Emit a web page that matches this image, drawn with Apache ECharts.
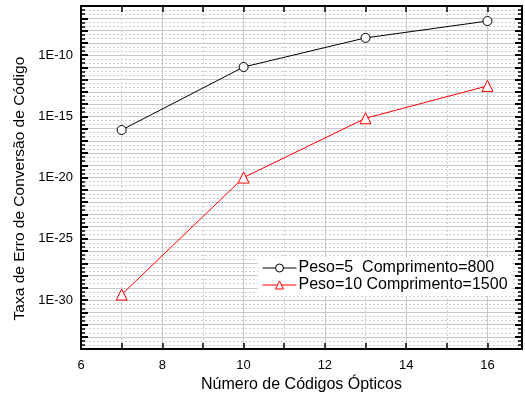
<!DOCTYPE html>
<html>
<head>
<meta charset="utf-8">
<script src="https://cdn.jsdelivr.net/npm/echarts@6/dist/echarts.min.js"></script>
<style>
html,body{margin:0;padding:0;background:#fff;}
#chart{width:525px;height:398px;}
</style>
</head>
<body>
<div id="chart"></div>
<script>
const xValues = [7, 10, 13, 16];
const seriesNames = ['Peso=5  Comprimento=800', 'Peso=10 Comprimento=1500'];
const peso5 = [7.6e-17, 1.05e-11, 2.5e-9, 5.9e-8];
const peso10 = [2.8e-30, 1.0e-20, 6.9e-16, 3.0e-13];
const yExpMin = -34, yExpMax = -6;
const xMin = 6, xMax = 16.85;
const xTitle = 'Número de Códigos Ópticos';
const yTitle = 'Taxa de Erro de Conversão de Código';

const FONT = 'Liberation Sans, Arial, sans-serif';
const chart = echarts.init(document.getElementById('chart'), null, {renderer: 'canvas'});

const SOLID = '#c8c8c8', DOT = '#cfcfcf';

function yFmt(v) {
  const e = Math.round(v);
  return e % 5 === 0 ? '1E' + e : '';
}
function xFmt(v) {
  return (Math.abs(v - Math.round(v)) < 1e-6 && Math.round(v) % 2 === 0) ? String(Math.round(v)) : '';
}

const yBase = {
  type: 'value', min: yExpMin, max: yExpMax, interval: 1,
  axisLine: {show: true, onZero: false, lineStyle: {color: '#000', width: 2}},
  axisTick: {show: true, inside: true, length: 7, lineStyle: {color: '#000', width: 2}},
  minorTick: {show: true, splitNumber: 3, length: 4, lineStyle: {color: '#000', width: 1.5}}
};
const xBase = {
  type: 'value', min: xMin, max: xMax, interval: 1,
  axisLine: {show: true, onZero: false, lineStyle: {color: '#000', width: 2}},
  axisTick: {show: true, inside: true, length: 6, lineStyle: {color: '#000', width: 1.5}}
};

chart.setOption({
  animation: false,
  backgroundColor: '#fff',
  grid: {left: 81, right: 3, top: 6, bottom: 48, containLabel: false},
  xAxis: [
    Object.assign({}, xBase, {
      position: 'bottom',
      name: xTitle, nameLocation: 'middle', nameGap: 25,
      nameTextStyle: {fontFamily: FONT, fontSize: 16, color: '#000'},
      axisLabel: {show: true, formatter: xFmt, fontFamily: FONT, fontSize: 13, color: '#000', margin: 10, showMaxLabel: false},
      splitLine: {show: true, lineStyle: {color: [SOLID, 'rgba(0,0,0,0)'], width: 1, type: 'solid'}}
    }),
    Object.assign({}, xBase, {
      position: 'top',
      axisLabel: {show: false},
      splitLine: {show: true, lineStyle: {color: ['rgba(0,0,0,0)', DOT], width: 1, type: [2, 2]}}
    })
  ],
  yAxis: [
    Object.assign({}, yBase, {
      position: 'left',
      name: yTitle, nameLocation: 'middle', nameGap: 52, nameRotate: 90,
      nameTextStyle: {fontFamily: FONT, fontSize: 15.5, color: '#000', padding: [0, 22, 0, 0]},
      axisLabel: {show: true, formatter: yFmt, fontFamily: FONT, fontSize: 13, color: '#000', margin: 8},
      splitLine: {show: true, lineStyle: {color: SOLID, width: 1, type: 'solid'}},
      minorSplitLine: {show: true, lineStyle: {color: DOT, width: 1, type: [2, 2]}}
    }),
    Object.assign({}, yBase, {
      position: 'right',
      axisLabel: {show: false},
      splitLine: {show: false}
    })
  ],
  legend: {
    orient: 'vertical',
    left: 258, top: 257,
    backgroundColor: '#fff',
    padding: [3, 4, 3, 4],
    itemGap: 1,
    itemWidth: 34, itemHeight: 10,
    lineStyle: {width: 1},
    itemStyle: {borderWidth: 1},
    textStyle: {fontFamily: FONT, fontSize: 16, color: '#000', padding: [0, 0, 0, -3]},
    data: seriesNames
  },
  series: [
    {
      name: seriesNames[0], type: 'line',
      xAxisIndex: 0, yAxisIndex: 0,
      data: xValues.map((x, i) => [x, Math.log10(peso5[i])]),
      symbol: 'circle', symbolSize: 9,
      itemStyle: {color: '#fff', borderColor: '#000', borderWidth: 1},
      lineStyle: {color: '#000', width: 1},
      z: 5
    },
    {
      name: seriesNames[1], type: 'line',
      xAxisIndex: 0, yAxisIndex: 0,
      data: xValues.map((x, i) => [x, Math.log10(peso10[i])]),
      symbol: 'triangle', symbolSize: 11,
      itemStyle: {color: '#fff', borderColor: '#ff0000', borderWidth: 1},
      lineStyle: {color: '#ff0000', width: 1},
      z: 5
    }
  ]
});
</script>
</body>
</html>
